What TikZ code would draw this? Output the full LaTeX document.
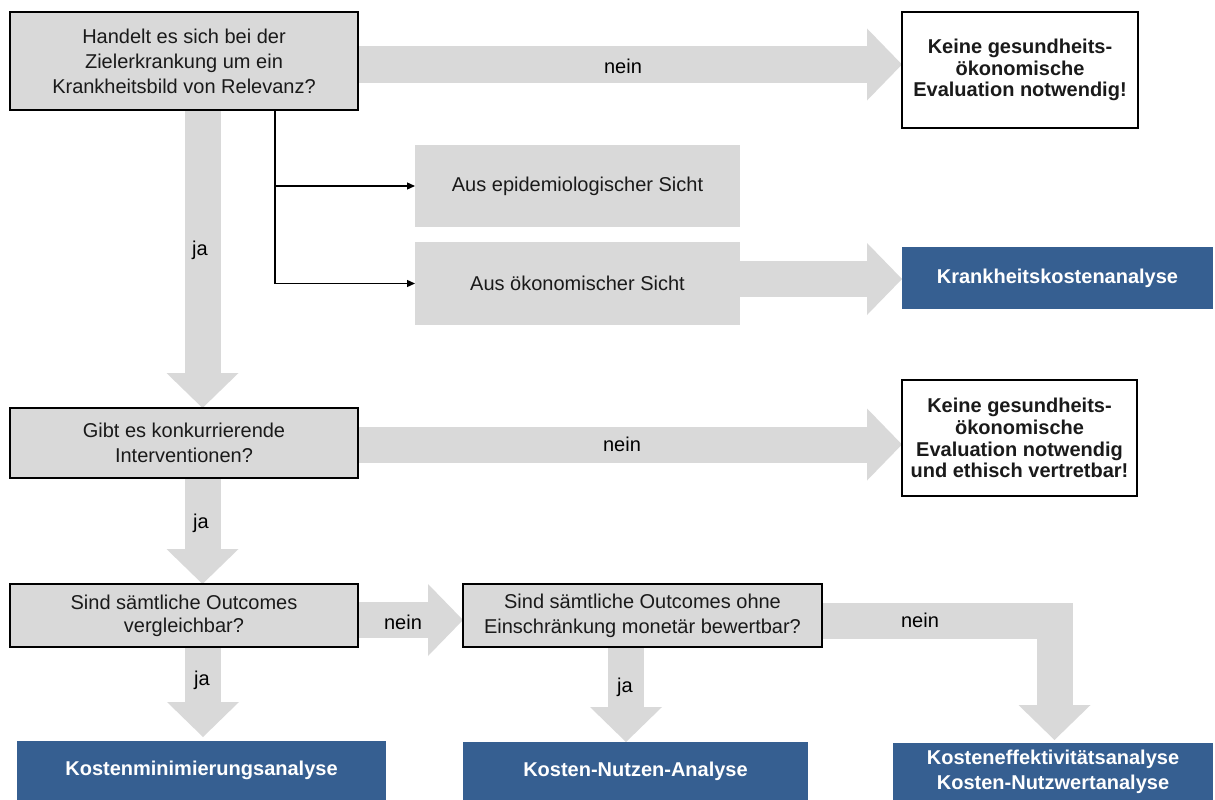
\documentclass[tikz,border=0pt]{standalone}
\usepackage{fontspec}
\setmainfont{Liberation Sans}
\usetikzlibrary{arrows.meta,backgrounds}
\definecolor{lgray}{HTML}{D9D9D9}
\definecolor{dblue}{HTML}{365F91}
\definecolor{txt}{HTML}{1A1A1A}
\begin{document}
\begin{tikzpicture}[x=1pt,y=-1pt,
  every node/.style={inner sep=0pt, outer sep=0pt, align=center, text=txt},
  qbox/.style={draw=black, line width=1.4pt, fill=lgray, font=\fontsize{20}{25}\selectfont},
  nbox/.style={draw=black, line width=1.4pt, fill=white, font=\bfseries\fontsize{20}{21.7}\selectfont},
  sbox/.style={fill=lgray, font=\fontsize{20}{25}\selectfont},
  rbox/.style={fill=dblue, text=white, font=\bfseries\fontsize{20}{25}\selectfont},
  lbl/.style={font=\fontsize{20}{25}\selectfont, text=black},
  barrow/.style={draw=lgray, line width=36pt, line join=miter,
     -{Triangle[length=35pt 0 0, width=72pt 0 0, line width=0pt 0 0]}},
  branch/.style={draw=black, line width=1.3pt, -{Triangle[length=8pt 0 0, width=7pt 0 0]}}
]
\useasboundingbox (0,0) rectangle (1215,800);

% nodes
\node[qbox, minimum width=348, minimum height=98] (q1) at (184,61)
  {Handelt es sich bei der\\Zielerkrankung um ein\\Krankheitsbild von Relevanz?};
\node[nbox, minimum width=236, minimum height=116] (n1) at (1020,70)
  {Keine gesundheits-\\ökonomische\\Evaluation notwendig!};
\node[sbox, minimum width=325, minimum height=82] (e1) at (577.5,186)
  {Aus epidemiologischer Sicht};
\node[sbox, minimum width=325, minimum height=83] (e2) at (577.5,283.5)
  {Aus ökonomischer Sicht};
\node[rbox, minimum width=311, minimum height=62] (k1) at (1057.5,278)
  {Krankheitskostenanalyse};
\node[qbox, minimum width=348, minimum height=70] (q2) at (184,443)
  {Gibt es konkurrierende\\Interventionen?};
\node[nbox, minimum width=235, minimum height=116] (n2) at (1019.5,438)
  {Keine gesundheits-\\ökonomische\\Evaluation notwendig\\und ethisch vertretbar!};
\node[qbox, minimum width=348, minimum height=63, font=\fontsize{20}{23}\selectfont] (q3) at (184,615.5)
  {Sind sämtliche Outcomes\\vergleichbar?};
\node[qbox, minimum width=359, minimum height=63] (q4) at (642.5,615.5)
  {Sind sämtliche Outcomes ohne\\Einschränkung monetär bewertbar?};
\node[rbox, minimum width=369, minimum height=59] (b1) at (201.5,770.5)
  {Kostenminimierungsanalyse};
\node[rbox, minimum width=345, minimum height=58] (b2) at (635.5,771)
  {Kosten-Nutzen-Analyse};
\node[rbox, minimum width=320, minimum height=57] (b3) at (1053,771.5)
  {Kosteneffektivitätsanalyse\\Kosten-Nutzwertanalyse};

\coordinate (t6) at (203,737);
\coordinate (t9) at (1054.5,740);
\coordinate (br) at (275,110);

% block arrows
\begin{pgfonlayer}{background}
\fill[white] (0,0) rectangle (1215,800);
\draw[barrow] (q1.east |- 0,64.5) -- (n1.west |- 0,64.5);
\draw[barrow] (q1.south -| 202.5,0) -- (q2.north -| 202.5,0);
\draw[barrow] (e2.east |- 0,279) -- (k1.west |- 0,279);
\draw[barrow] (q2.east |- 0,444.5) -- (n2.west |- 0,444.5);
\draw[barrow] (q2.south -| 202.5,0) -- (q3.north -| 202.5,0);
\draw[barrow] (q3.south -| 203,0) -- (t6);
\draw[barrow] (q3.east |- 0,620) -- (q4.west |- 0,620);
\draw[barrow] (q4.south -| 626,0) -- (b2.north -| 626,0);
\draw[barrow] (q4.east |- 0,620.5) -| (t9);
\end{pgfonlayer}

% branch connectors
\draw[branch] (br) |- (e2.west);
\draw[branch] (br |- e1.west) -- (e1.west);

% labels
\node[lbl] (l1) at (623,66) {nein};
\node[lbl] (l2) at (200,250) {ja};
\node[lbl] (l3) at (622,444) {nein};
\node[lbl] (l4) at (201,523) {ja};
\node[lbl] (l5) at (202,680) {ja};
\node[lbl] (l6) at (403,622) {nein};
\node[lbl] (l7) at (625,687) {ja};
\node[lbl] (l8) at (920,620) {nein};
\end{tikzpicture}
\end{document}
